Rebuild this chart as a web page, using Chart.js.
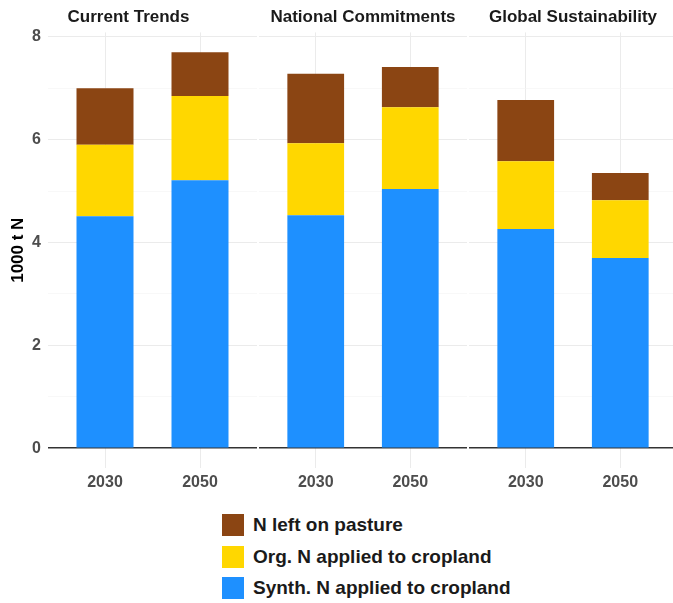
<!DOCTYPE html>
<html>
<head>
<meta charset="utf-8">
<script src="https://cdn.jsdelivr.net/npm/chart.js@4.4.0/dist/chart.umd.min.js"></script>
<style>
  body { margin: 0; width: 673px; height: 603px; overflow: hidden; background: #fff;
         font-family: "Liberation Sans", Arial, sans-serif; position: relative; }
  .panel { position: absolute; top: 0; height: 500px; }
  #legend { position: absolute; left: 222px; top: 514px; }
  .item { display: flex; align-items: center; height: 22px; margin-bottom: 9.5px;
          font-weight: bold; font-size: 19px; color: #1a1a1a; }
  .box { width: 22px; height: 22px; margin-right: 9px; }
</style>
</head>
<body>
<div class="panel" style="left:0;width:257px"><canvas id="c0"></canvas></div>
<div class="panel" style="left:259px;width:208px"><canvas id="c1"></canvas></div>
<div class="panel" style="left:469px;width:208px"><canvas id="c2"></canvas></div>
<div id="legend"></div>

<script>
// facets and x categories
var scenarios = ['Current Trends', 'National Commitments', 'Global Sustainability'];
var years = ['2030', '2050'];

// values in 1000 t N, two per scenario (2030, 2050)
var synthN   = [4.51, 5.21, 4.53, 5.04, 4.26, 3.70];
var orgN     = [1.39, 1.64, 1.40, 1.59, 1.32, 1.12];
var pastureN = [1.10, 0.85, 1.35, 0.78, 1.19, 0.53];

var yGrid = [0, 1, 2, 3, 4, 5, 6, 7, 8];
var yLabels = [0, 2, 4, 6, 8];

var series = [
    { name: 'Synth. N applied to cropland', values: synthN, color: '#1E90FF' },
    { name: 'Org. N applied to cropland', values: orgN, color: '#FFD700' },
    { name: 'N left on pasture', values: pastureN, color: '#8B4513' }
];

function gridColor(ctx) {
    var v = ctx.tick ? ctx.tick.value : null;
    if (v === 0) return '#333333';
    return (v % 2) ? '#f3f3f3' : '#ebebeb';
}

function gridWidth(ctx) {
    var v = ctx.tick ? ctx.tick.value : null;
    if (v === 0) return 1.6;
    return (v % 2) ? 0.6 : 1;
}

function drawPanel(i) {
    var datasets = series.map(function(s) {
        return {
            label: s.name,
            stack: 'n',
            backgroundColor: s.color,
            borderWidth: 0,
            barPercentage: 0.6,
            categoryPercentage: 1,
            data: years.map(function(yr, j) {
                return { x: j + 1, y: s.values[i * 2 + j] };
            })
        };
    });

    return new Chart(document.getElementById('c' + i), {
        type: 'bar',
        data: { datasets: datasets },
        options: {
            responsive: true,
            maintainAspectRatio: false,
            animation: false,
            layout: { padding: 0 },
            plugins: {
                legend: { display: false },
                tooltip: { enabled: false },
                title: {
                    display: true,
                    text: scenarios[i],
                    color: '#1a1a1a',
                    font: { family: 'Liberation Sans', size: 17, weight: 'bold' },
                    padding: { top: 7, bottom: 5 }
                }
            },
            scales: {
                x: {
                    type: 'linear',
                    min: 0.4,
                    max: 2.6,
                    offset: false,
                    afterBuildTicks: function(axis) {
                        axis.ticks = years.map(function(yr, j) { return { value: j + 1 }; });
                    },
                    afterFit: function(axis) { axis.height = 32; },
                    border: { display: false },
                    grid: { offset: false, drawTicks: false, color: '#ebebeb', lineWidth: 1 },
                    ticks: {
                        padding: 5,
                        maxRotation: 0,
                        autoSkip: false,
                        color: '#4d4d4d',
                        font: { family: 'Liberation Sans', size: 16, weight: 'bold' },
                        callback: function(v) { return years[v - 1]; }
                    }
                },
                y: {
                    min: -0.385,
                    max: 8.085,
                    afterBuildTicks: function(axis) {
                        axis.ticks = yGrid.map(function(v) { return { value: v }; });
                    },
                    afterFit: function(axis) { axis.width = i === 0 ? 48 : 0; },
                    border: { display: false },
                    grid: { drawTicks: false, color: gridColor, lineWidth: gridWidth },
                    ticks: {
                        display: i === 0,
                        padding: 7,
                        color: '#4d4d4d',
                        font: { family: 'Liberation Sans', size: 16, weight: 'bold' },
                        callback: function(v) { return yLabels.indexOf(v) >= 0 ? v : ''; }
                    },
                    title: {
                        display: i === 0,
                        text: '1000 t N',
                        color: '#000',
                        font: { family: 'Liberation Sans', size: 17, weight: 'bold' },
                        padding: { top: 8, bottom: 0 }
                    }
                }
            }
        }
    });
}

function renderLegend() {
    var legend = document.getElementById('legend');
    series.slice().reverse().forEach(function(s) {
        var item = document.createElement('div');
        item.className = 'item';
        var box = document.createElement('div');
        box.className = 'box';
        box.style.background = s.color;
        item.appendChild(box);
        item.appendChild(document.createTextNode(s.name));
        legend.appendChild(item);
    });
}

scenarios.forEach(function(s, i) { drawPanel(i); });
renderLegend();
</script>
</body>
</html>
